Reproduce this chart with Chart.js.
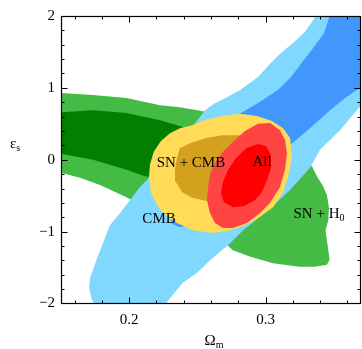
<!DOCTYPE html>
<html>
<head>
<meta charset="utf-8">
<script src="https://cdn.jsdelivr.net/npm/chart.js@4.4.0/dist/chart.umd.min.js"></script>
<style>
  html, body { margin: 0; padding: 0; background: #fff; }
  #wrap { width: 362px; height: 349px; }
</style>
</head>
<body>
<div id="wrap"><canvas id="chart"></canvas></div>
<script>
// Axis ranges: Omega_m across, epsilon_s up
const xRange = [0.15, 0.37];
const yRange = [-2, 2];
const xTickLabels = [0.2, 0.3];
const yTickLabels = [-2, -1, 0, 1, 2];

// Confidence contours, as [Omega_m, epsilon_s]
const snH0Outer = [
  [0.148, 0.93], [0.1735, 0.90], [0.198, 0.86], [0.2226, 0.76], [0.237, 0.73],
  [0.250, 0.69], [0.258, 0.66], [0.296, 0.27], [0.334, -0.09], [0.338, -0.24],
  [0.342, -0.36], [0.345, -0.49], [0.3465, -0.67], [0.346, -0.84], [0.344, -0.98],
  [0.345, -1.12], [0.346, -1.26], [0.347, -1.39], [0.345, -1.46], [0.336, -1.49],
  [0.325, -1.49], [0.3055, -1.44], [0.289, -1.35], [0.276, -1.26], [0.272, -1.19],
  [0.245, -0.98], [0.215, -0.63], [0.2006, -0.55], [0.198, -0.52], [0.1786, -0.35],
  [0.164, -0.25], [0.148, -0.17]
];
const snH0Inner = [
  [0.148, 0.66], [0.1735, 0.69], [0.198, 0.65], [0.2226, 0.55], [0.237, 0.47],
  [0.250, 0.39], [0.256, 0.0], [0.230, -0.28], [0.2116, -0.23], [0.198, -0.14],
  [0.1735, 0.0], [0.148, 0.09]
];
const cmbOuter = [
  [0.3392, 2.06], [0.38, 2.06], [0.38, 0.90], [0.370, 0.76], [0.3546, 0.41],
  [0.340, 0.14], [0.3326, -0.11], [0.318, -0.42], [0.2996, -0.74], [0.2835, -0.98],
  [0.2725, -1.19], [0.2666, -1.28], [0.257, -1.44], [0.2497, -1.575], [0.2394, -1.71],
  [0.2277, -1.98], [0.2248, -2.06], [0.1764, -2.06], [0.1727, -1.95], [0.1705, -1.78],
  [0.1713, -1.645], [0.1764, -1.37], [0.1859, -0.91], [0.1933, -0.74], [0.2006, -0.56],
  [0.2079, -0.38], [0.2152, -0.24], [0.2262, 0.0], [0.2409, 0.34], [0.249, 0.525],
  [0.2556, 0.69], [0.2622, 0.78], [0.2717, 0.87], [0.2813, 0.97], [0.2945, 1.15],
  [0.304, 1.35], [0.3113, 1.485], [0.3209, 1.64], [0.3289, 1.78]
];
const cmbInner = [
  [0.348, 2.06], [0.38, 2.06], [0.38, 1.15], [0.370, 1.01], [0.3583, 0.86],
  [0.3473, 0.69], [0.3326, 0.44], [0.318, 0.205], [0.296, -0.14], [0.274, -0.49],
  [0.2446, -0.91], [0.237, -0.94], [0.2314, -0.89], [0.2306, -0.82], [0.237, -0.63],
  [0.2519, -0.21], [0.2666, 0.275], [0.2747, 0.58], [0.282, 0.65], [0.2945, 0.79],
  [0.309, 0.97], [0.3187, 1.15], [0.3282, 1.39], [0.3355, 1.57], [0.3429, 1.76]
];
const snCmbOuter = [
  [0.2681, 0.61], [0.2813, 0.64], [0.2937, 0.61], [0.3047, 0.54], [0.3128, 0.44],
  [0.318, 0.30], [0.3194, 0.04], [0.3165, -0.24], [0.3128, -0.46], [0.3055, -0.66],
  [0.2923, -0.84], [0.2813, -0.94], [0.2717, -0.99], [0.2614, -1.02], [0.2468, -0.98],
  [0.235, -0.88], [0.2262, -0.77], [0.2204, -0.63], [0.216, -0.46], [0.2145, -0.25],
  [0.2152, -0.07], [0.218, 0.11], [0.2233, 0.26], [0.2299, 0.37], [0.2372, 0.44],
  [0.246, 0.48], [0.2570, 0.565]
];
const snCmbInner = [
  [0.2372, 0.16], [0.2446, 0.23], [0.2556, 0.30], [0.2681, 0.34], [0.2813, 0.34],
  [0.2923, 0.275], [0.296, 0.0], [0.2849, -0.42], [0.2666, -0.56], [0.2556, -0.57],
  [0.246, -0.53], [0.2387, -0.45], [0.2343, -0.31], [0.2336, -0.14], [0.235, 0.02]
];
const allOuter = [
  [0.2945, 0.50], [0.3033, 0.51], [0.3106, 0.41], [0.3143, 0.275], [0.3157, 0.09],
  [0.3143, -0.14], [0.3106, -0.38], [0.3033, -0.60], [0.296, -0.74], [0.2864, -0.88],
  [0.2761, -0.95], [0.2688, -0.95], [0.2629, -0.88], [0.2592, -0.74], [0.257, -0.56],
  [0.2578, -0.39], [0.2592, -0.21], [0.2629, -0.045], [0.2688, 0.11], [0.2761, 0.25],
  [0.2849, 0.40]
];
const allInner = [
  [0.2945, 0.22], [0.3003, 0.19], [0.304, 0.066], [0.304, -0.115], [0.3011, -0.28],
  [0.2974, -0.45], [0.2923, -0.56], [0.2849, -0.64], [0.2761, -0.66], [0.2695, -0.59],
  [0.2673, -0.46], [0.2688, -0.31], [0.2725, -0.14], [0.2783, 0.02], [0.2857, 0.16]
];

// Region names, placed at [Omega_m, epsilon_s] (text baseline)
const regionLabels = [
  { text: 'SN + CMB', sub: '', at: [0.2453, -0.10] },
  { text: 'All', sub: '', at: [0.2974, -0.08] },
  { text: 'CMB', sub: '', at: [0.2219, -0.88] },
  { text: 'SN + H', sub: '0', at: [0.3392, -0.81] }
];

const SERIF = "'Liberation Serif', 'Times New Roman', serif";

function region(label, pts, color, order) {
  return {
    label: label,
    order: order,
    data: pts.concat([pts[0]]).map(p => ({ x: p[0], y: p[1] })),
    showLine: true,
    fill: 'shape',
    backgroundColor: color,
    borderColor: color,
    borderWidth: 0,
    pointRadius: 0,
    pointHoverRadius: 0,
    tension: 0
  };
}

// Draws text with an optional subscript, centred on x
function drawSub(ctx, main, sub, x, y, size) {
  ctx.font = size + 'px ' + SERIF;
  const w1 = ctx.measureText(main).width;
  const subSize = Math.round(size * 0.68);
  ctx.font = subSize + 'px ' + SERIF;
  const w2 = sub ? ctx.measureText(sub).width : 0;
  const left = x - (w1 + w2) / 2;
  ctx.font = size + 'px ' + SERIF;
  ctx.fillText(main, left, y);
  if (sub) {
    ctx.font = subSize + 'px ' + SERIF;
    ctx.fillText(sub, left + w1, y + size * 0.22);
  }
}

// Frame with inward ticks on all sides, region names and axis titles
const framePlugin = {
  id: 'frame',
  afterDatasetsDraw(chart) {
    const { ctx, chartArea: a, scales: { x, y } } = chart;
    const L = Math.round(a.left) + 0.5, R = Math.round(a.right) - 0.5;
    const T = Math.round(a.top) + 0.5, B = Math.round(a.bottom) - 0.5;
    ctx.save();
    ctx.strokeStyle = '#000';
    ctx.lineWidth = 1;
    ctx.beginPath();
    for (let i = 8; i <= 18; i++) {
      const px = Math.round(x.getPixelForValue(i / 50)) + 0.5;
      const len = i % 5 === 0 ? 6 : 3;
      ctx.moveTo(px, B); ctx.lineTo(px, B - len);
      ctx.moveTo(px, T); ctx.lineTo(px, T + len);
    }
    for (let j = -9; j <= 9; j++) {
      const py = Math.round(y.getPixelForValue(j / 5)) + 0.5;
      const len = j % 5 === 0 ? 6 : 3;
      ctx.moveTo(L, py); ctx.lineTo(L + len, py);
      ctx.moveTo(R, py); ctx.lineTo(R - len, py);
    }
    ctx.stroke();
    ctx.lineWidth = 1.2;
    ctx.strokeRect(L, T, R - L, B - T);

    ctx.fillStyle = '#000';
    ctx.textBaseline = 'alphabetic';
    ctx.textAlign = 'left';
    regionLabels.forEach(l => {
      drawSub(ctx, l.text, l.sub, x.getPixelForValue(l.at[0]), y.getPixelForValue(l.at[1]), 15);
    });
    // axis titles
    drawSub(ctx, '\u03A9', 'm', 214, 345, 15);
    drawSub(ctx, '\u03B5', 's', 15, 148, 15);
    ctx.restore();
  }
};

new Chart(document.getElementById('chart'), {
  type: 'scatter',
  data: {
    datasets: [
      region('SN + H0 (2\u03C3)', snH0Outer, '#44bb44', 8),
      region('SN + H0 (1\u03C3)', snH0Inner, '#007f00', 7),
      region('CMB (2\u03C3)', cmbOuter, '#80d8ff', 6),
      region('CMB (1\u03C3)', cmbInner, '#4297ff', 5),
      region('SN + CMB (2\u03C3)', snCmbOuter, '#ffdb58', 4),
      region('SN + CMB (1\u03C3)', snCmbInner, '#d4a11e', 3),
      region('All (2\u03C3)', allOuter, '#ff4444', 2),
      region('All (1\u03C3)', allInner, '#ff0000', 1)
    ]
  },
  options: {
    responsive: true,
    maintainAspectRatio: false,
    animation: false,
    events: [],
    layout: { padding: { top: 16, right: 1, left: 0, bottom: 0 } },
    plugins: { legend: { display: false }, tooltip: { enabled: false } },
    scales: {
      x: {
        type: 'linear',
        min: xRange[0], max: xRange[1],
        grid: { display: false, drawTicks: false },
        border: { display: false },
        afterBuildTicks: s => { s.ticks = xTickLabels.map(v => ({ value: v })); },
        afterFit: s => { s.height = 45.5; },
        ticks: {
          padding: 8, color: '#000', maxRotation: 0,
          font: { family: SERIF, size: 15 },
          callback: v => v.toFixed(1)
        }
      },
      y: {
        type: 'linear',
        min: yRange[0], max: yRange[1],
        grid: { display: false, drawTicks: false },
        border: { display: false },
        afterBuildTicks: s => { s.ticks = yTickLabels.map(v => ({ value: v })); },
        afterFit: s => { s.width = 61; },
        ticks: {
          padding: 6, color: '#000',
          font: { family: SERIF, size: 15 },
          callback: v => (v < 0 ? '\u2212' + Math.abs(v) : String(v))
        }
      }
    }
  },
  plugins: [framePlugin]
});
</script>
</body>
</html>
